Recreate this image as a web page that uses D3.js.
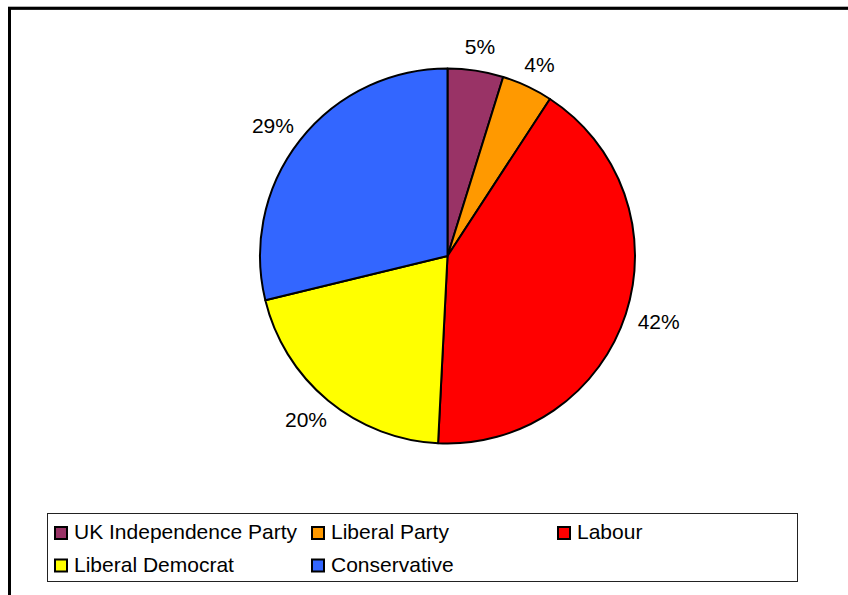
<!DOCTYPE html>
<html>
<head>
<meta charset="utf-8">
<script src="https://cdn.jsdelivr.net/npm/d3@7"></script>
<style>
  html, body { margin: 0; padding: 0; background: #fff; }
  svg { display: block; font-family: "Liberation Sans", Arial, sans-serif; }
</style>
</head>
<body>
<svg id="chart" width="848" height="595"></svg>
<script>
// ---- data ----
const parties = ["UK Independence Party", "Liberal Party", "Labour", "Liberal Democrat", "Conservative"];
const shares = [4.8, 4.4, 41.6, 20.4, 28.8];
const colors = ["#993366", "#FF9900", "#FF0000", "#FFFF00", "#3366FF"];

const data = parties.map((p, i) => ({ party: p, value: shares[i], color: colors[i] }));
const total = d3.sum(shares);

const svg = d3.select("#chart");

// outer frame (right/bottom edges fall outside the picture)
svg.append("rect")
  .attr("x", 10.5).attr("y", 9.5).attr("width", 1000).attr("height", 1000)
  .attr("fill", "none").attr("stroke", "#777").attr("stroke-width", 1);
svg.append("rect")
  .attr("x", 9.5).attr("y", 8.2).attr("width", 1000).attr("height", 1000)
  .attr("fill", "none").attr("stroke", "#000").attr("stroke-width", 3);

// pie
const cx = 447.5, cy = 256, r = 187.5;
const pie = d3.pie().value(d => d.value).sort(null);
const arc = d3.arc().innerRadius(0).outerRadius(r);
const anchorR = 201;

const g = svg.append("g").attr("transform", `translate(${cx},${cy})`);
const arcs = pie(data);

g.selectAll("path.slice")
  .data(arcs)
  .join("path")
  .attr("class", "slice")
  .attr("d", arc)
  .attr("fill", d => d.data.color)
  .attr("stroke", "#000")
  .attr("stroke-width", 2)
  .attr("stroke-linejoin", "round");

const fs = 21;
g.selectAll("text.pct")
  .data(arcs)
  .join("text")
  .attr("class", "pct")
  .attr("font-size", fs)
  .attr("fill", "#000")
  .attr("text-anchor", "middle")
  .attr("dy", "0.36em")
  .text(d => Math.round(d.data.value / total * 100) + "%")
  .each(function (d) {
    const a = (d.startAngle + d.endAngle) / 2;
    const w = this.getComputedTextLength();
    const h = fs;
    const x = Math.sin(a) * anchorR + Math.sin(a) * w / 2;
    const y = -Math.cos(a) * anchorR - Math.cos(a) * h / 2;
    d3.select(this).attr("x", x).attr("y", y);
  });

// legend
const lx = 47.5, ly = 513.5, lw = 750, lh = 68;
svg.append("rect")
  .attr("x", lx).attr("y", ly).attr("width", lw).attr("height", lh)
  .attr("fill", "#fff").attr("stroke", "#222").attr("stroke-width", 1);

const colX = [55, 312, 558];
const rowY = [532.5, 565];
const leg = svg.append("g");
const items = leg.selectAll("g.item")
  .data(data)
  .join("g")
  .attr("class", "item")
  .attr("transform", (d, i) => `translate(${colX[i % 3]},${rowY[Math.floor(i / 3)]})`);

items.append("rect")
  .attr("x", 0).attr("y", -5.5).attr("width", 12).attr("height", 12)
  .attr("fill", d => d.color)
  .attr("stroke", "#000").attr("stroke-width", 2);

items.append("text")
  .attr("x", 19)
  .attr("y", 6.5)
  .attr("font-size", 21)
  .attr("fill", "#000")
  .text(d => d.party);
</script>
</body>
</html>
